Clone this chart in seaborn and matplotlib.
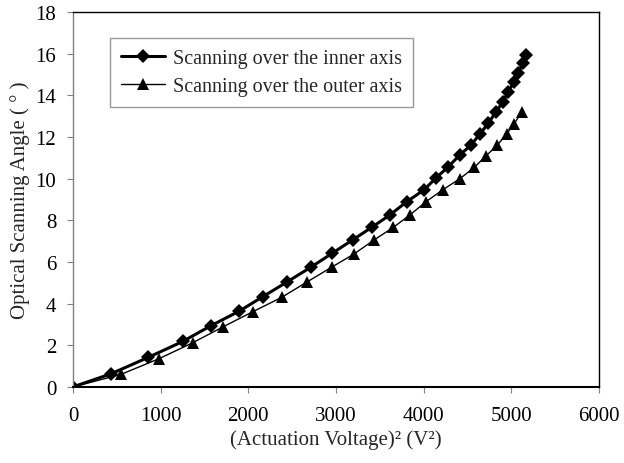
import seaborn as sns
import matplotlib.pyplot as plt
import pandas as pd

# data
inner_v2 = [0, 434, 859, 1251, 1574, 1893, 2164, 2438, 2714, 2958, 3190, 3407, 3616, 3806,
            4004, 4137, 4273, 4414, 4539, 4643, 4737, 4821, 4901, 4965, 5030, 5079, 5130, 5167]
inner_angle = [0, 0.63, 1.42, 2.18, 2.94, 3.63, 4.33, 5.03, 5.75, 6.42, 7.06, 7.66, 8.26, 8.89,
               9.46, 10.02, 10.54, 11.14, 11.61, 12.15, 12.66, 13.18, 13.67, 14.17, 14.66, 15.07, 15.55, 15.94]

outer_v2 = [0, 547, 984, 1365, 1714, 2056, 2380, 2666, 2951, 3205, 3436, 3654, 3844, 4026,
            4216, 4414, 4577, 4711, 4840, 4947, 5030, 5118]
outer_angle = [0, 0.6, 1.36, 2.12, 2.89, 3.62, 4.3, 5.03, 5.75, 6.38, 7.06, 7.66, 8.26, 8.89,
               9.46, 10.0, 10.54, 11.09, 11.61, 12.15, 12.62, 13.2]

x_ticks = [0, 1000, 2000, 3000, 4000, 5000, 6000]
y_ticks = [0, 2, 4, 6, 8, 10, 12, 14, 16, 18]

inner = pd.DataFrame({"v2": inner_v2, "angle": inner_angle})
outer = pd.DataFrame({"v2": outer_v2, "angle": outer_angle})

sns.set_style("white")
plt.rcParams["font.family"] = ["Liberation Serif", "DejaVu Serif"]
plt.rcParams["font.size"] = 15

fig = plt.figure(figsize=(6.24, 4.64), dpi=100)
ax = fig.add_axes([0.117, 0.164, 0.843, 0.808])

sns.lineplot(data=inner, x="v2", y="angle", ax=ax, color="black", linewidth=2.2,
             marker="D", markersize=7, markeredgewidth=0,
             label="Scanning over the inner axis")
sns.lineplot(data=outer, x="v2", y="angle", ax=ax, color="black", linewidth=1.0,
             marker="^", markersize=9, markeredgewidth=0,
             label="Scanning over the outer axis")

ax.set_xlim(0, 6000)
ax.set_ylim(0, 18)
ax.set_xticks(x_ticks)
ax.set_yticks(y_ticks)
ax.tick_params(axis="both", labelsize=15, length=4, width=0.8, colors="#808080",
               labelcolor="black", direction="out", bottom=True, left=True)
ax.tick_params(axis="x", pad=10)
ax.tick_params(axis="y", pad=8)

for side in ["top", "right"]:
    ax.spines[side].set_color("black")
    ax.spines[side].set_linewidth(1.0)
ax.spines["left"].set_color("#808080")
ax.spines["left"].set_linewidth(1.0)
ax.spines["bottom"].set_color("black")
ax.spines["bottom"].set_linewidth(1.5)

ax.set_xlabel("(Actuation Voltage)² (V²)", fontsize=15, labelpad=3)
ax.set_ylabel("Optical Scanning Angle ( ° )", fontsize=15, labelpad=4)

leg = ax.legend(loc="upper left", bbox_to_anchor=(0.07, 0.93), borderaxespad=0,
                fontsize=14.5, frameon=True, fancybox=False, handlelength=2.2,
                handletextpad=0.4, borderpad=0.55, labelspacing=0.4)
leg.get_frame().set_edgecolor("#808080")
leg.get_frame().set_linewidth(1.0)

plt.savefig("out.png", dpi=100)
